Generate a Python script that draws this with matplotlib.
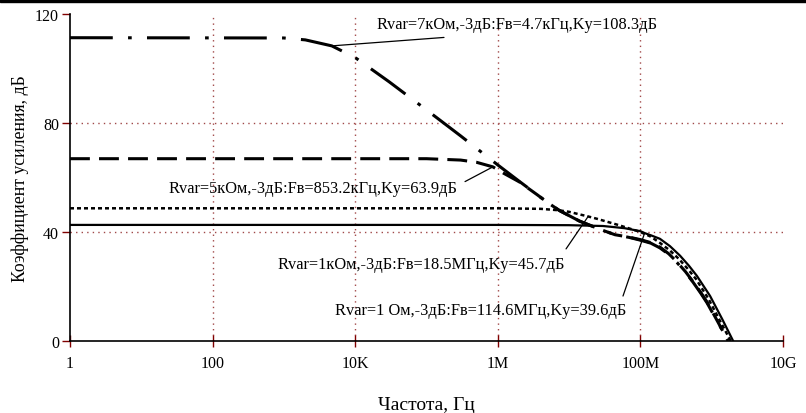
import numpy as np
import matplotlib
matplotlib.use("Agg")
import matplotlib.pyplot as plt
from matplotlib.patches import Rectangle

# ---- data ----
f_7k = [1, 1e3, 2e3, 4.7e3, 1e4, 3e4, 1e5, 3e5, 1e6, 2e6, 3.6e6, 5e6, 7.4e6,
        1.4e7, 2.7e7, 4.4e7, 7e7, 1e8, 1.4e8, 1.87e8, 2.5e8, 3.26e8, 4.3e8, 5.5e8, 7e8, 8.6e8, 1.22e9, 1.72e9]
g_7k = [111.3, 111.2, 110.5, 108.3, 104.0, 95.1, 84.8, 75.3, 64.6, 58.6, 53.6, 50.8, 47.8,
        44.0, 41.0, 39.0, 38.0, 37.0, 35.9, 34.2, 31.8, 28.8, 25.2, 21.5, 17.6, 14.0, 6.8, 0.0]

f_5k = [1, 1e5, 3e5, 5e5, 8.532e5, 1.2e6, 2e6, 3.6e6, 5e6, 7.4e6,
        1.4e7, 2.7e7, 4.4e7, 7e7, 1e8, 1.4e8, 1.87e8, 2.5e8, 3.26e8, 4.3e8, 5.5e8, 7e8, 8.6e8, 1.22e9, 1.7e9]
g_5k = [66.9, 66.9, 66.4, 65.6, 63.9, 61.6, 58.4, 53.6, 50.8, 47.8,
        44.0, 41.0, 39.0, 38.1, 37.2, 36.1, 34.5, 32.0, 29.0, 25.4, 21.7, 17.9, 14.3, 7.0, 0.0]

f_1k = [1, 1e6, 4e6, 7e6, 1e7, 1.85e7, 2.5e7, 5e7, 1e8, 1.4e8, 1.88e8, 2.6e8, 3.5e8, 4.6e8, 6e8, 9e8, 1.3e9, 1.85e9]
g_1k = [48.7, 48.7, 48.5, 48.0, 47.4, 45.7, 44.8, 42.5, 40.0, 38.3, 36.0, 33.2, 30.0, 26.5, 22.8, 15.5, 7.5, 0.0]

f_1 = [1, 1e6, 1e7, 3e7, 6e7, 1e8, 1.146e8, 1.4e8, 1.88e8, 2.6e8, 3.6e8, 4.8e8, 6.2e8, 9.5e8, 1.4e9, 2.0e9]
g_1 = [42.6, 42.6, 42.5, 42.2, 41.4, 40.3, 39.6, 38.8, 37.5, 34.8, 31.3, 27.6, 23.9, 16.5, 8.1, 0.0]

labels = ["Rvar=7кОм,-3дБ:Fв=4.7кГц,Ky=108.3дБ",
          "Rvar=5кОм,-3дБ:Fв=853.2кГц,Ky=63.9дБ",
          "Rvar=1кОм,-3дБ:Fв=18.5МГц,Ky=45.7дБ",
          "Rvar=1 Ом,-3дБ:Fв=114.6МГц,Ky=39.6дБ"]
label_points = [(4.7e3, 108.3), (853.2e3, 63.9), (18.5e6, 45.7), (114.6e6, 39.6)]
label_text_pos = [(2.02e4, 116.5), (23.7, 56.0), (826, 28.1), (5.2e3, 11.2)]
label_leader_start = [(1.76e5, 111.4), (3.47e5, 58.5), (9.06e6, 33.8), (5.7e7, 16.5)]

xticks = [1, 1e2, 1e4, 1e6, 1e8, 1e10]
xticklabels = ["1", "100", "10K", "1M", "100M", "10G"]
yticks = [0, 40, 80, 120]

# ---- figure ----
plt.rcParams['font.family'] = ['Liberation Serif', 'DejaVu Serif']
fig = plt.figure(figsize=(8.06, 4.14), dpi=100)
ax = fig.add_axes([70/806, 1-342/414, (783-70)/806, (342-15)/414])

grid_c = '#a04848'
for xv in xticks[1:-1]:
    ax.axvline(xv, color=grid_c, lw=1.0, ls=(0, (1, 3)), zorder=1)
for yv in yticks[1:-1]:
    ax.axhline(yv, color=grid_c, lw=1.0, ls=(0, (1, 3)), zorder=1)

ax.plot(f_7k, g_7k, color='black', lw=2.2, dashes=(14, 5, 1.2, 5), zorder=3)
ax.plot(f_5k, g_5k, color='black', lw=2.2, dashes=(6.5, 3), zorder=3)
ax.plot(f_1k, g_1k, color='black', lw=1.8, dashes=(1.6, 1.2), zorder=3)
ax.plot(f_1, g_1, color='black', lw=1.6, zorder=4)

for txt, pt, tp, ls in zip(labels, label_points, label_text_pos, label_leader_start):
    ax.text(tp[0], tp[1], txt, fontsize=11.8, ha='left', va='center', color='black', zorder=5)
    ax.annotate('', xy=pt, xytext=ls,
                arrowprops=dict(arrowstyle='-', color='black', lw=0.9, shrinkA=0, shrinkB=0),
                zorder=5)

ax.set_xscale('log')
ax.set_xlim(1, 1e10)
ax.set_ylim(0, 120)
ax.set_xticks(xticks)
ax.set_xticklabels(xticklabels)
ax.minorticks_off()
ax.set_yticks(yticks)
ax.tick_params(axis='y', direction='out', length=6, width=1, color='#800000', labelsize=11.5, pad=2)
ax.tick_params(axis='x', direction='inout', length=8, width=1, color='#800000', labelsize=11.5, pad=6)
for s in ['top', 'right']:
    ax.spines[s].set_visible(False)
ax.spines['left'].set_linewidth(1.2)
ax.spines['bottom'].set_linewidth(1.2)

ax.set_xlabel("Частота, Гц", fontsize=14, labelpad=18)
ax.set_ylabel("Коэффициент усиления, дБ", fontsize=12.8, labelpad=4)

fig.patches.append(Rectangle((0, 1-3/414), 1, 3/414, transform=fig.transFigure,
                             color='black', zorder=10))

fig.savefig("out.png", dpi=100)
